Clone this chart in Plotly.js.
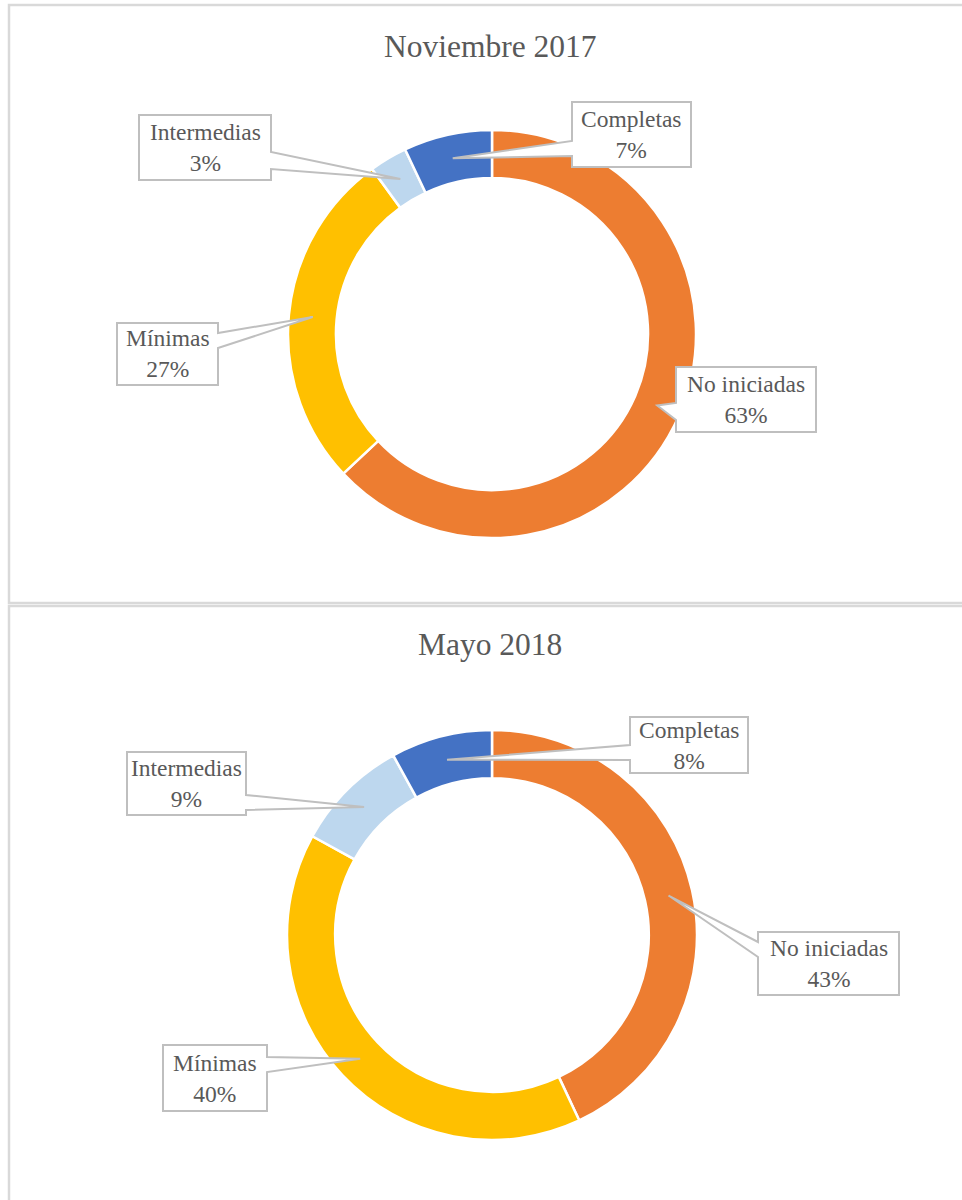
<!DOCTYPE html>
<html>
<head>
<meta charset="utf-8">
<script src="https://cdn.plot.ly/plotly-3.0.1.min.js"></script>
<style>html,body{margin:0;padding:0;background:#fff;}#chart{width:962px;height:1200px;}</style>
</head>
<body>
<div id="chart"></div>
<script>
// ---- data ----
const categories = ["No iniciadas", "Mínimas", "Intermedias", "Completas"];
const valuesNov2017 = [63, 27, 3, 7];
const valuesMay2018 = [43, 40, 9, 8];
const chartTitles = ["Noviembre 2017", "Mayo 2018"];
const sliceColors = ["#ED7D31", "#FFC000", "#BDD7EE", "#4472C4"];

// ---- layout geometry (pixels) ----
const W = 962, H = 1200;
const HOLE = 0.765;
const px = x => x / W, py = y => 1 - y / H;
const charts = [
  {values: valuesNov2017, title: chartTitles[0], cx: 492, cy: 334, r: 204, titleY: 46,
   boxes: [ // per category: [L, T, R, B, side, baseY1, baseY2]
     [676, 367, 816, 432, "left", 403, 420],
     [117, 323, 218, 385, "right", 333, 348],
     [139, 115, 271, 180, "right", 152, 169],
     [572, 102, 691, 167, "left", 141, 156]
   ]},
  {values: valuesMay2018, title: chartTitles[1], cx: 492, cy: 935, r: 205, titleY: 644,
   boxes: [
     [758, 932, 899, 995, "left", 942, 957],
     [163, 1045, 267, 1111, "right", 1057, 1072],
     [127, 752, 246, 815, "right", 795, 810],
     [630, 717, 748, 773, "left", 745, 760]
   ]}
];

const traces = [], shapes = [], annotations = [];
const textFont = {family: "Liberation Serif", color: "#595959"};

// panel frames
const frameColor = "#d9d9d9";
shapes.push({type: "rect", xref: "paper", yref: "paper", x0: px(9), x1: px(980), y0: py(603), y1: py(5),
  line: {color: frameColor, width: 2.5}, fillcolor: "rgba(0,0,0,0)", layer: "below"});
shapes.push({type: "rect", xref: "paper", yref: "paper", x0: px(9), x1: px(980), y0: py(1230), y1: py(606),
  line: {color: frameColor, width: 2.5}, fillcolor: "rgba(0,0,0,0)", layer: "below"});

charts.forEach(c => {
  traces.push({
    type: "pie", labels: categories, values: c.values, sort: false, direction: "clockwise", rotation: 0,
    hole: HOLE, textinfo: "none", hoverinfo: "label+percent", showlegend: false,
    marker: {colors: sliceColors, line: {color: "#ffffff", width: 2.5}},
    domain: {x: [px(c.cx - c.r), px(c.cx + c.r)], y: [py(c.cy + c.r), py(c.cy - c.r)]}
  });
  annotations.push({text: c.title, xref: "paper", yref: "paper", x: px(490), y: py(c.titleY),
    xanchor: "center", yanchor: "middle", showarrow: false, font: Object.assign({size: 31.5}, textFont)});
  const total = c.values.reduce((a, b) => a + b, 0);
  let cum = 0;
  const rm = c.r * (1 + HOLE) / 2;
  c.values.forEach((v, i) => {
    const a = 2 * Math.PI * (cum + v / 2) / total;
    cum += v;
    const tx = c.cx + rm * Math.sin(a), ty = c.cy - rm * Math.cos(a);
    const [L, T, R, B, side, y1, y2] = c.boxes[i];
    let pts;
    if (side === "left") {
      pts = [[L, T], [R, T], [R, B], [L, B], [L, y2], [tx, ty], [L, y1]];
    } else {
      pts = [[L, T], [R, T], [R, y1], [tx, ty], [R, y2], [R, B], [L, B]];
    }
    const path = "M " + pts.map(p => px(p[0]).toFixed(5) + "," + py(p[1]).toFixed(5)).join(" L ") + " Z";
    shapes.push({type: "path", xref: "paper", yref: "paper", path: path,
      fillcolor: "#ffffff", line: {color: "#bfbfbf", width: 2}, layer: "above"});
    const pct = Math.round(100 * v / total);
    annotations.push({text: categories[i] + "<br>" + pct + "%", xref: "paper", yref: "paper",
      x: px((L + R) / 2), y: py((T + B) / 2), xanchor: "center", yanchor: "middle", showarrow: false,
      align: "center", font: Object.assign({size: 23.5}, textFont)});
  });
});

const layout = {
  width: W, height: H, margin: {l: 0, r: 0, t: 0, b: 0},
  paper_bgcolor: "#ffffff", plot_bgcolor: "#ffffff",
  shapes: shapes, annotations: annotations, showlegend: false
};
Plotly.newPlot("chart", traces, layout, {displayModeBar: false, staticPlot: true});
</script>
</body>
</html>
